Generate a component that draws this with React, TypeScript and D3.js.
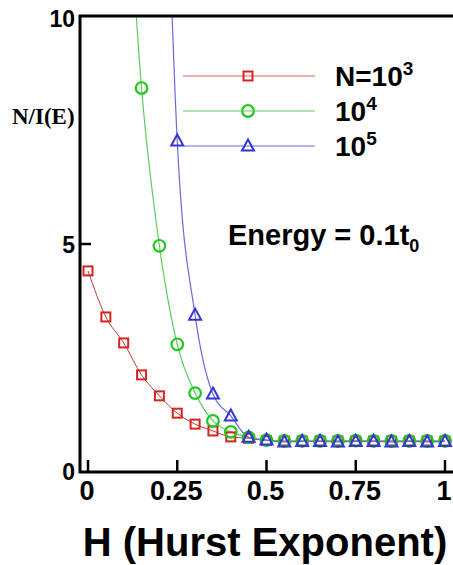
import React from "react";
import * as d3 from "d3";

const hValues = [0, 0.05, 0.1, 0.15, 0.2, 0.25, 0.3, 0.35, 0.4, 0.45, 0.5, 0.55, 0.6, 0.65, 0.7, 0.75, 0.8, 0.85, 0.9, 0.95, 1];
const seriesN3 = [4.41, 3.4, 2.83, 2.13, 1.67, 1.29, 1.05, 0.9, 0.77, 0.74, 0.69, 0.68, 0.68, 0.68, 0.68, 0.68, 0.68, 0.68, 0.68, 0.68, 0.68];
const hN4 = [0.1, 0.15, 0.2, 0.25, 0.3, 0.35, 0.4, 0.45, 0.5, 0.55, 0.6, 0.65, 0.7, 0.75, 0.8, 0.85, 0.9, 0.95, 1];
const seriesN4 = [14.5, 8.42, 4.96, 2.8, 1.73, 1.12, 0.88, 0.76, 0.7, 0.68, 0.68, 0.68, 0.68, 0.69, 0.68, 0.68, 0.68, 0.68, 0.68];
const hN5 = [0.2, 0.25, 0.3, 0.35, 0.4, 0.45, 0.5, 0.55, 0.6, 0.65, 0.7, 0.75, 0.8, 0.85, 0.9, 0.95, 1];
const seriesN5 = [19, 7.26, 3.44, 1.71, 1.23, 0.76, 0.7, 0.66, 0.67, 0.67, 0.66, 0.67, 0.67, 0.66, 0.67, 0.66, 0.67];
const xTicks = [0, 0.25, 0.5, 0.75, 1];
const xTickLabels = ["0", "0.25", "0.5", "0.75", "1"];
const yTicks = [0, 5, 10];

const FONT = "'Liberation Sans', Arial, Helvetica, sans-serif";

export default function App() {
  const frameL = 80, frameT = 16, frameR = 456, frameB = 472;
  const x = d3.scaleLinear().domain([0, 1]).range([88, 445]);
  const y = d3.scaleLinear().domain([0, 10]).range([472, 16]);

  const line = d3
    .line<[number, number]>()
    .x((d) => x(d[0]))
    .y((d) => y(d[1]))
    .curve(d3.curveMonotoneX);

  const red = "#d8231e";
  const green = "#1cc91c";
  const blue = "#3535d6";

  const d3pts: [number, number][] = hValues.map((h, i) => [h, seriesN3[i]]);
  const d4pts: [number, number][] = hN4.map((h, i) => [h, seriesN4[i]]);
  const d5pts: [number, number][] = hN5.map((h, i) => [h, seriesN5[i]]);

  const square = (cx: number, cy: number, key: string, c = red) => (
    <rect key={key} x={cx - 4.5} y={cy - 4.5} width={9} height={9} fill="none" stroke={c} strokeWidth={2} />
  );
  const circle = (cx: number, cy: number, key: string, c = green) => (
    <circle key={key} cx={cx} cy={cy} r={5.8} fill="none" stroke={c} strokeWidth={2.2} />
  );
  const tri = (cx: number, cy: number, key: string, c = blue) => (
    <path
      key={key}
      d={`M${cx},${cy - 6.5} L${cx + 6},${cy + 4.5} L${cx - 6},${cy + 4.5} Z`}
      fill="none"
      stroke={c}
      strokeWidth={2}
    />
  );

  const legendX1 = 183, legendX2 = 315, legendM = 248;
  const legendY = [76, 111, 146];

  const yLabelPos: Record<number, [number, number]> = { 10: [75, 27], 5: [75, 253], 0: [75, 480] };

  return (
    <svg width={453} height={565} style={{ position: "absolute", left: 0, top: 0, background: "#fff" }}>
      <defs>
        <clipPath id="plotclip">
          <rect x={frameL} y={frameT} width={frameR - frameL} height={frameB - frameT} />
        </clipPath>
      </defs>
      <rect x={0} y={0} width={453} height={565} fill="#fff" />

      <g clipPath="url(#plotclip)">
        <path d={line(d3pts) || ""} fill="none" stroke="#b8403a" strokeWidth={1} />
        <path d={line(d4pts) || ""} fill="none" stroke="#5ccc5c" strokeWidth={1.2} />
        <path d={line(d5pts) || ""} fill="none" stroke="#6a6ad8" strokeWidth={1.2} />
        {d3pts.map((d, i) => square(x(d[0]), y(d[1]), "r" + i))}
        {d4pts.map((d, i) => circle(x(d[0]), y(d[1]), "g" + i))}
        {d5pts.map((d, i) => tri(x(d[0]), y(d[1]), "b" + i))}
      </g>

      {/* frame */}
      <rect x={frameL} y={frameT} width={frameR - frameL} height={frameB - frameT} fill="none" stroke="#000" strokeWidth={3} />

      {/* x ticks */}
      {xTicks.map((t, i) => (
        <g key={"xt" + i}>
          <line x1={x(t)} x2={x(t)} y1={frameB} y2={frameB - 12} stroke="#000" strokeWidth={2.5} />
          <text x={x(t) - 1} y={500} textAnchor="middle" fontFamily={FONT} fontWeight="bold" fontSize={27} fill="#000">
            {xTickLabels[i]}
          </text>
        </g>
      ))}

      {/* y ticks */}
      {yTicks.map((t) => (
        <g key={"yt" + t}>
          {t === 5 && <line x1={frameL} x2={frameL + 11} y1={y(t)} y2={y(t)} stroke="#000" strokeWidth={2.5} />}
          <text
            x={yLabelPos[t][0]}
            y={yLabelPos[t][1]}
            textAnchor="end"
            fontFamily={FONT}
            fontWeight="bold"
            fontSize={23}
            fill="#000"
          >
            {t}
          </text>
        </g>
      ))}

      {/* y label */}
      <text x={12} y={124} fontFamily="'Liberation Serif', 'Times New Roman', serif" fontWeight="bold" fontSize={23} fill="#000">
        N/I(E)
      </text>

      {/* legend */}
      <line x1={legendX1} x2={legendX2} y1={legendY[0]} y2={legendY[0]} stroke="#e06060" strokeWidth={1.2} />
      {square(legendM, legendY[0], "lr")}
      <line x1={legendX1} x2={legendX2} y1={legendY[1]} y2={legendY[1]} stroke="#5ccc5c" strokeWidth={1.2} />
      {circle(legendM, legendY[1], "lg")}
      <line x1={legendX1} x2={legendX2} y1={legendY[2]} y2={legendY[2]} stroke="#6a6ad8" strokeWidth={1.2} />
      {tri(legendM, legendY[2], "lb")}

      <text x={335} y={legendY[0] + 10} fontFamily={FONT} fontWeight="bold" fontSize={28} fill="#000">
        N=10<tspan dy={-11} fontSize={19}>3</tspan>
      </text>
      <text x={335} y={legendY[1] + 10} fontFamily={FONT} fontWeight="bold" fontSize={28} fill="#000">
        10<tspan dy={-11} fontSize={19}>4</tspan>
      </text>
      <text x={335} y={legendY[2] + 10} fontFamily={FONT} fontWeight="bold" fontSize={28} fill="#000">
        10<tspan dy={-11} fontSize={19}>5</tspan>
      </text>

      <text x={228} y={245} fontFamily={FONT} fontWeight="bold" fontSize={29} fill="#000">
        Energy = 0.1t<tspan dy={7} fontSize={18}>0</tspan>
      </text>

      {/* x title */}
      <text x={265} y={556} textAnchor="middle" fontFamily={FONT} fontWeight="bold" fontSize={40} fill="#000">
        H (Hurst Exponent)
      </text>
    </svg>
  );
}
